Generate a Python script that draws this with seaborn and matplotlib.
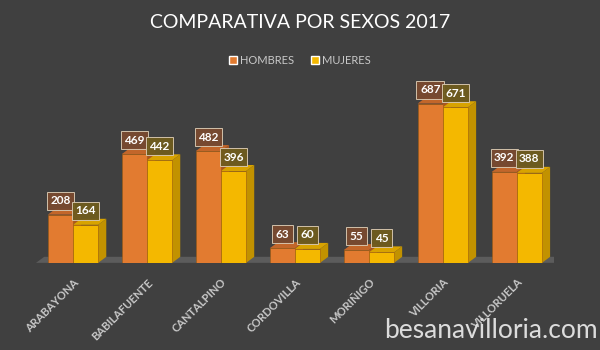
import numpy as np
import pandas as pd
import matplotlib.pyplot as plt
import seaborn as sns
from matplotlib.patches import Polygon, Patch

# Datos
municipios = ["ARABAYONA", "BABILAFUENTE", "CANTALPINO", "CORDOVILLA",
              "MORIÑIGO", "VILLORIA", "VILLORUELA"]
hombres = [208, 469, 482, 63, 55, 687, 392]
mujeres = [164, 442, 396, 60, 45, 671, 388]
sexos = ["HOMBRES", "MUJERES"]

df = pd.DataFrame({
    "municipio": municipios * 2,
    "valor": hombres + mujeres,
    "sexo": [sexos[0]] * len(hombres) + [sexos[1]] * len(mujeres),
})

# Colores
fondo = "#404040"
colores = {"HOMBRES": "#E27B30", "MUJERES": "#F4B800"}
laterales = {"HOMBRES": "#A9561F", "MUJERES": "#C29200"}
superiores = {"HOMBRES": "#C2662A", "MUJERES": "#D8A300"}
cajas = {"HOMBRES": "#7A4A30", "MUJERES": "#6F5C1E"}
gris_texto = "#c8c8c8"

sns.set_theme(style="dark")
plt.rcParams['font.family'] = ['Lato', 'DejaVu Sans']

fig = plt.figure(figsize=(6, 3.5), dpi=100, facecolor=fondo)
ax = fig.add_axes([0.06, 0.249, 0.863, 0.53])
ax.set_facecolor(fondo)

sns.barplot(data=df, x="municipio", y="valor", hue="sexo", palette=colores,
            width=0.68, gap=0, saturation=1, legend=False, ax=ax, zorder=3,
            edgecolor="#9a5a10", linewidth=0.4)

ax.set_xlim(-0.5, 6.5)
ax.set_ylim(0, 800)

# profundidad "3D"
dx, dy = 0.11, 26

# suelo
suelo = Polygon([(-0.5, 0), (6.5, 0), (6.5 + dx, dy), (-0.5 + dx, dy)],
                closed=True, facecolor="#5c5c5c", edgecolor="none", zorder=1)
ax.add_patch(suelo)

for sexo, cont in zip(sexos, ax.containers):
    for barra in cont:
        x0 = barra.get_x()
        w = barra.get_width()
        h = barra.get_height()
        x1 = x0 + w
        lado = Polygon([(x1, 0), (x1 + dx, dy), (x1 + dx, h + dy), (x1, h)],
                       closed=True, facecolor=laterales[sexo], edgecolor="none", zorder=2)
        tapa = Polygon([(x0, h), (x1, h), (x1 + dx, h + dy), (x0 + dx, h + dy)],
                       closed=True, facecolor=superiores[sexo], edgecolor="none", zorder=2)
        ax.add_patch(lado)
        ax.add_patch(tapa)
        ax.annotate(f"{int(h)}", (x0 + w / 2, h), xytext=(0, 14),
                    textcoords="offset pixels", ha="center", va="center",
                    color="white", fontsize=8.5, fontweight="bold", zorder=5,
                    bbox=dict(boxstyle="square,pad=0.3", facecolor=cajas[sexo],
                              edgecolor="#d8c8b0", linewidth=0.7, alpha=0.95))

# ejes
for s in ax.spines.values():
    s.set_visible(False)
ax.set_xlabel("")
ax.set_ylabel("")
ax.set_yticks([])
ax.grid(False)
ax.tick_params(axis="x", length=0, pad=10)
plt.setp(ax.get_xticklabels(), rotation=45, ha="right", rotation_mode="anchor",
         color=gris_texto, fontsize=8, fontweight="bold")

# titulo y leyenda
fig.text(0.5, 0.935, "COMPARATIVA POR SEXOS 2017", ha="center", va="center",
         color="white", fontsize=14)
handles = [Patch(facecolor=colores[s], label=s) for s in sexos]
fig.legend(handles=handles, loc="center", bbox_to_anchor=(0.5, 0.828), ncol=2,
           frameon=False, fontsize=8, labelcolor=gris_texto,
           handlelength=0.7, handleheight=0.7, handletextpad=0.3, columnspacing=1.5)

# marca de agua
fig.text(0.997, 0.02, "besanavilloria.com", ha="right", va="bottom",
         color="#dcdcdc", fontsize=19)

fig.savefig("out.png", dpi=100, facecolor=fondo)
